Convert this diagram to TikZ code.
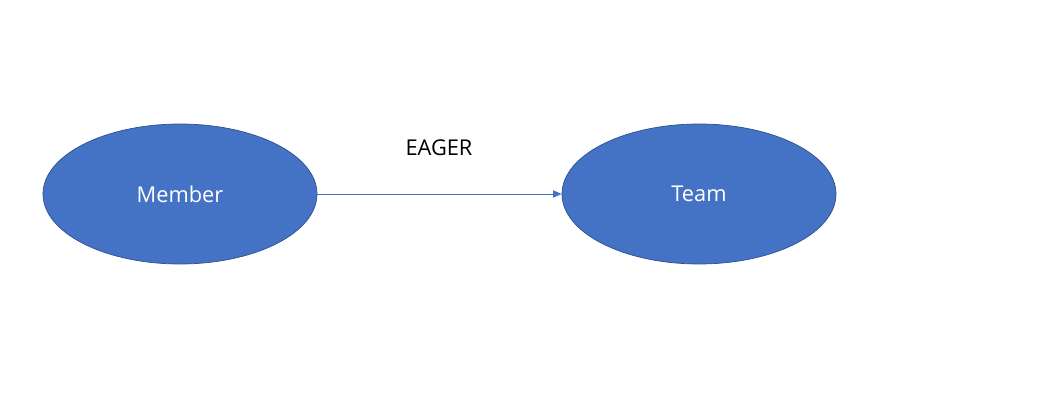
\documentclass[tikz,border=0pt]{standalone}
\usepackage{fontspec}
\setmainfont{Open Sans}
\usetikzlibrary{shapes.geometric,arrows.meta}
\definecolor{entityblue}{HTML}{4472C4}
\definecolor{entityline}{HTML}{2F528F}
\begin{document}
\begin{tikzpicture}[x=0.025cm,y=-0.025cm]
  \tikzstyle{entity}=[ellipse,fill=entityblue,draw=entityline,line width=0.5pt,
    minimum width=274*0.025cm,minimum height=140*0.025cm,inner sep=0pt,
    text=white,font=\fontsize{15.5}{18}\selectfont]
  \useasboundingbox (0,0) rectangle (1041,401);

  \node [entity] (member) at (180,194) {Member};
  \node [entity] (team)   at (699,194) {Team};
  \node [font=\fontsize{15.5}{18}\selectfont] (eager) at (439,148) {EAGER};

  \draw [entityblue,line width=0.6pt,-{Triangle[length=6pt,width=5pt]}] (member) -- (team);
\end{tikzpicture}
\end{document}
